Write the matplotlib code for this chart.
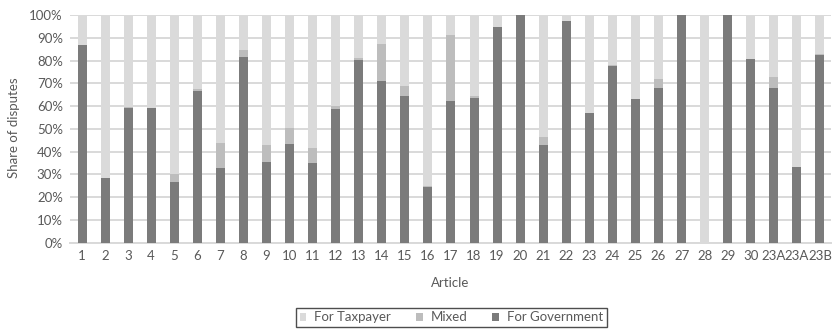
import matplotlib.pyplot as plt
import numpy as np

plt.rcParams["font.family"] = ["Lato", "DejaVu Sans"]

articles = ["1", "2", "3", "4", "5", "6", "7", "8", "9", "10", "11", "12", "13", "14",
            "15", "16", "17", "18", "19", "20", "21", "22", "23", "24", "25", "26", "27",
            "28", "29", "30", "23A", "23A", "23B"]
# shares in percent
for_government = [87.0, 28.4, 59.0, 59.3, 26.8, 66.5, 32.9, 81.4, 35.4, 43.3, 35.0, 58.6,
                  80.1, 70.9, 64.3, 24.6, 62.1, 63.7, 94.7, 100.0, 42.9, 97.4, 57.1, 77.6,
                  63.0, 67.8, 100.0, 0.0, 100.0, 80.7, 67.9, 33.2, 82.4]
mixed = [0.0, 0.0, 0.4, 0.0, 3.5, 1.0, 10.9, 3.4, 7.6, 7.1, 6.6, 1.3,
         1.0, 16.5, 4.5, 0.3, 29.3, 0.9, 0.0, 0.0, 3.5, 0.0, 0.0, 0.3,
         0.3, 4.1, 0.0, 0.0, 0.0, 0.0, 4.7, 0.0, 0.3]
for_taxpayer = [100 - g - m for g, m in zip(for_government, mixed)]

C_TAX = "#dadada"
C_MIX = "#bdbdbd"
C_GOV = "#7b7b7b"
TXT = "#595959"
FS = 9.5

fig = plt.figure(figsize=(8.36, 3.32), dpi=100)
ax = fig.add_axes([0.0843, 0.269, 0.9103, 0.6858])

x = np.arange(len(articles))
w = 0.39
ax.bar(x, for_government, w, color=C_GOV, label="For Government", zorder=3)
ax.bar(x, mixed, w, bottom=for_government, color=C_MIX, label="Mixed", zorder=3)
bottom2 = [g + m for g, m in zip(for_government, mixed)]
ax.bar(x, for_taxpayer, w, bottom=bottom2, color=C_TAX, label="For Taxpayer", zorder=3)

ax.set_xlim(-0.5, len(articles) - 0.5)
ax.set_ylim(0, 100)
ax.set_yticks(np.arange(0, 101, 10))
ax.set_yticklabels([f"{v}%" for v in range(0, 101, 10)])
ax.set_xticks(x)
ax.set_xticklabels(articles)
ax.tick_params(axis="both", length=0, labelsize=FS, labelcolor=TXT)
ax.tick_params(axis="y", pad=5.5)
ax.tick_params(axis="x", pad=5)
ax.yaxis.grid(True, color="#d9d9d9", linewidth=1.4, zorder=0)
ax.set_axisbelow(True)
for s in ["top", "right", "left"]:
    ax.spines[s].set_visible(False)
ax.spines["bottom"].set_color("#d9d9d9")
ax.spines["bottom"].set_linewidth(1.4)

fig.text(0.0165, 0.614, "Share of disputes", rotation=90, ha="center", va="center",
         fontsize=FS, color=TXT)
fig.text(0.539, 0.147, "Article", ha="center", va="center", fontsize=FS, color=TXT)

handles, labels = ax.get_legend_handles_labels()
leg = fig.legend(handles[::-1], labels[::-1], loc="center",
                 bbox_to_anchor=(0.54, 0.0437), ncol=3, fontsize=FS,
                 frameon=True, fancybox=False, handlelength=0.5, handleheight=0.5,
                 handletextpad=0.6, columnspacing=1.9, borderpad=0.3,
                 borderaxespad=0, labelcolor=TXT)
leg.get_frame().set_edgecolor("#222222")
leg.get_frame().set_linewidth(1.0)

fig.savefig("out.png", dpi=100)
